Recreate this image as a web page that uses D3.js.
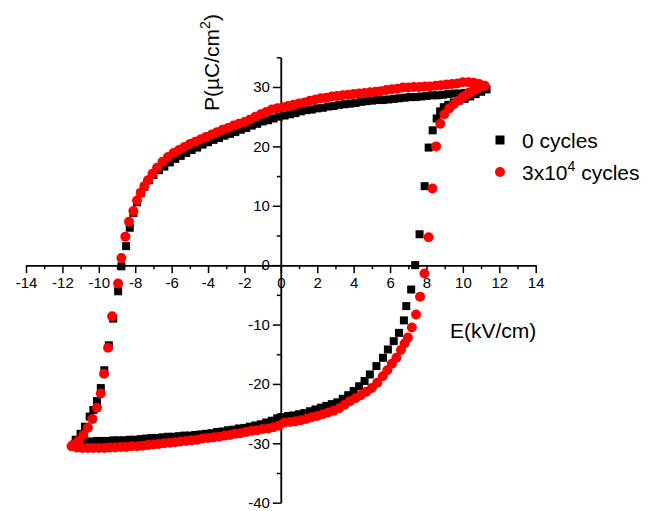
<!DOCTYPE html>
<html>
<head>
<meta charset="utf-8">
<script src="https://cdn.jsdelivr.net/npm/d3@7"></script>
<style>
  body { margin: 0; background: #fff; }
  svg { display: block; font-family: "Liberation Sans", Arial, sans-serif; }
  .tick text { font-size: 15px; fill: #000; }
</style>
</head>
<body>
<div id="loop-chart"></div>
<script>
// P-E hysteresis loops, [E (kV/cm), P (uC/cm2)]
const cycles0 = [
  [11.3,29.6],[11.0,29.4],[10.7,29.2],[10.4,29.1],[10.1,29.0],[9.8,28.9],[9.5,28.9],[9.2,28.8],[8.9,28.7],[8.6,28.6],
  [8.3,28.6],[8.0,28.5],[7.7,28.4],[7.4,28.3],[7.1,28.3],[6.8,28.2],[6.5,28.1],[6.2,28.0],[5.9,27.9],[5.6,27.8],
  [5.3,27.8],[5.0,27.7],[4.7,27.6],[4.4,27.5],[4.1,27.3],[3.8,27.2],[3.5,27.1],[3.2,27.0],[2.9,26.8],[2.6,26.7],
  [2.3,26.5],[2.0,26.4],[1.7,26.2],[1.4,26.1],[1.1,25.9],[0.8,25.6],[0.5,25.4],[0.2,25.2],[-0.1,25.0],[-0.4,24.7],
  [-0.7,24.4],[-1.0,24.2],[-1.3,23.8],[-1.6,23.5],[-1.9,23.1],[-2.2,22.8],[-2.5,22.4],[-2.8,22.1],[-3.1,21.8],[-3.4,21.4],
  [-3.7,21.1],[-4.0,20.7],[-4.3,20.3],[-4.6,19.8],[-4.9,19.4],[-5.2,18.9],[-5.5,18.4],[-5.8,17.9],[-6.1,17.3],[-6.4,16.6],
  [-6.7,16.0],[-7.0,15.2],[-7.25,14.3],[-7.5,13.2],[-7.7,12.1],[-7.9,10.6],[-8.1,8.8],[-8.3,6.3],[-8.5,3.2],[-8.76,-0.2],
  [-8.94,-4.4],[-9.21,-9.0],[-9.45,-13.5],[-9.7,-17.7],[-9.89,-20.7],[-10.1,-22.9],[-10.3,-24.4],[-10.5,-25.5],[-10.76,-27.2],[-11.0,-28.4],
  [-11.27,-29.4],[-11.0,-29.6],[-10.7,-29.7],[-10.4,-29.7],[-10.1,-29.6],[-9.8,-29.6],[-9.5,-29.6],[-9.2,-29.5],[-8.9,-29.5],[-8.6,-29.5],
  [-8.3,-29.4],[-8.0,-29.4],[-7.7,-29.3],[-7.4,-29.2],[-7.1,-29.1],[-6.8,-29.1],[-6.5,-29.0],[-6.2,-28.9],[-5.9,-28.9],[-5.6,-28.8],
  [-5.3,-28.7],[-5.0,-28.7],[-4.7,-28.6],[-4.4,-28.5],[-4.1,-28.4],[-3.8,-28.3],[-3.5,-28.1],[-3.2,-28.0],[-2.9,-27.8],[-2.6,-27.7],
  [-2.3,-27.5],[-2.0,-27.4],[-1.7,-27.2],[-1.4,-27.0],[-1.1,-26.8],[-0.8,-26.5],[-0.5,-26.2],[-0.2,-25.8],[0.1,-25.6],[0.4,-25.4],
  [0.7,-25.3],[1.0,-25.1],[1.3,-24.9],[1.6,-24.6],[1.9,-24.3],[2.2,-24.0],[2.5,-23.7],[2.8,-23.4],[3.1,-23.1],[3.4,-22.5],
  [3.7,-21.9],[4.0,-21.2],[4.3,-20.4],[4.6,-19.5],[4.89,-18.4],[5.25,-17.0],[5.61,-15.6],[5.88,-14.2],[6.2,-12.8],[6.49,-11.4],
  [6.76,-9.3],[6.89,-6.9],[7.16,-4.1],[7.38,0.0],[7.62,5.2],[7.9,13.3],[8.12,19.8],[8.34,22.7],[8.56,24.7],[8.75,25.9],
  [8.95,26.6],[9.2,27.0],[9.5,27.4],[9.8,27.7],[10.1,28.0],[10.4,28.4],[10.7,28.8],[11.0,29.2]
];

const cycles3e4 = [
  [11.2,30.2],[10.9,30.5],[10.6,30.7],[10.3,30.8],[10.0,30.8],[9.7,30.6],[9.4,30.5],[9.1,30.4],[8.8,30.3],[8.5,30.2],
  [8.2,30.1],[7.9,30.1],[7.6,30.0],[7.3,30.0],[7.0,29.9],[6.7,29.9],[6.4,29.7],[6.1,29.6],[5.8,29.5],[5.5,29.3],
  [5.2,29.2],[4.9,29.1],[4.6,29.0],[4.3,28.9],[4.0,28.8],[3.7,28.7],[3.4,28.6],[3.1,28.5],[2.8,28.4],[2.5,28.2],
  [2.2,28.1],[1.9,27.9],[1.6,27.7],[1.3,27.4],[1.0,27.2],[0.7,27.0],[0.4,26.8],[0.1,26.6],[-0.2,26.4],[-0.5,26.2],
  [-0.8,25.8],[-1.1,25.4],[-1.4,25.0],[-1.7,24.5],[-2.0,24.1],[-2.3,23.8],[-2.6,23.5],[-2.9,23.1],[-3.2,22.8],[-3.5,22.4],
  [-3.8,22.0],[-4.1,21.6],[-4.4,21.2],[-4.7,20.8],[-5.0,20.4],[-5.3,19.9],[-5.6,19.4],[-5.9,18.9],[-6.2,18.2],[-6.5,17.4],
  [-6.8,16.4],[-7.05,15.4],[-7.3,14.3],[-7.5,13.3],[-7.7,12.2],[-7.9,10.9],[-8.1,9.1],[-8.34,7.3],[-8.54,4.8],[-8.76,1.2],
  [-8.94,-3.1],[-9.27,-8.6],[-9.49,-13.9],[-9.71,-18.3],[-9.89,-21.6],[-10.1,-24.0],[-10.35,-25.9],[-10.6,-27.4],[-10.85,-28.6],[-11.1,-29.6],
  [-11.4,-30.2],[-11.5,-30.5],[-11.2,-30.7],[-10.9,-30.8],[-10.6,-30.8],[-10.3,-30.8],[-10.0,-30.8],[-9.7,-30.8],[-9.4,-30.7],[-9.1,-30.7],
  [-8.8,-30.6],[-8.5,-30.6],[-8.2,-30.5],[-7.9,-30.5],[-7.6,-30.4],[-7.3,-30.3],[-7.0,-30.2],[-6.7,-30.1],[-6.4,-30.0],[-6.1,-29.9],
  [-5.8,-29.8],[-5.5,-29.7],[-5.2,-29.6],[-4.9,-29.5],[-4.6,-29.4],[-4.3,-29.2],[-4.0,-29.1],[-3.7,-29.0],[-3.4,-28.9],[-3.1,-28.7],
  [-2.8,-28.6],[-2.5,-28.4],[-2.2,-28.3],[-1.9,-28.1],[-1.6,-27.9],[-1.3,-27.8],[-1.0,-27.6],[-0.7,-27.5],[-0.4,-27.3],[-0.1,-27.0],
  [0.2,-26.5],[0.5,-26.4],[0.8,-26.3],[1.1,-26.1],[1.4,-25.9],[1.7,-25.6],[2.0,-25.4],[2.3,-25.1],[2.6,-24.8],[2.9,-24.5],
  [3.2,-24.1],[3.5,-23.5],[3.8,-22.9],[4.1,-22.4],[4.4,-21.9],[4.7,-21.3],[5.0,-20.7],[5.3,-19.8],[5.6,-18.7],[5.85,-17.7],
  [6.1,-16.6],[6.35,-15.6],[6.6,-14.3],[6.8,-13.2],[6.98,-12.2],[7.2,-10.5],[7.43,-8.3],[7.65,-5.3],[7.89,-1.4],[8.12,4.7],
  [8.33,12.9],[8.53,20.0],[8.76,23.8],[8.98,25.4],[9.25,26.4],[9.5,27.1],[9.75,27.7],[10.0,28.3],[10.25,28.8],[10.5,29.2],
  [10.75,29.6],[11.0,30.0]
];

const xMajorTicks = [-14, -12, -10, -8, -6, -4, -2, 0, 2, 4, 6, 8, 10, 12, 14];
const xMinorTicks = [-13, -11, -9, -7, -5, -3, -1, 1, 3, 5, 7, 9, 11, 13];
const yMajorTicks = [-40, -30, -20, -10, 0, 10, 20, 30];
const yMinorTicks = [-35, -25, -15, -5, 5, 15, 25, 35];

const width = 664;
const height = 511;

const svg = d3.select("#loop-chart")
  .append("svg")
  .attr("width", width)
  .attr("height", height);

const xScale = d3.scaleLinear().domain([-14, 14]).range([26, 535.7]);
const yScale = d3.scaleLinear().domain([-40, 35]).range([502.7, 57.3]);

const fmt = d => String(d); // keep plain hyphen minus like the original

// x axis through P = 0
const xAxisG = svg.append("g")
  .attr("transform", `translate(0, ${yScale(0)})`);
xAxisG.append("g")
  .call(d3.axisBottom(xScale).tickValues(xMinorTicks).tickSize(4).tickSizeOuter(0).tickFormat(""));
xAxisG.append("g")
  .call(d3.axisBottom(xScale).tickValues(xMajorTicks).tickSize(8).tickSizeOuter(0).tickFormat(fmt).tickPadding(4));

// y axis through E = 0
const yAxisG = svg.append("g")
  .attr("transform", `translate(${xScale(0)}, 0)`);
yAxisG.append("g")
  .call(d3.axisLeft(yScale).tickValues(yMinorTicks).tickSize(4).tickSizeOuter(0).tickFormat(""));
yAxisG.append("g")
  .call(d3.axisLeft(yScale).tickValues(yMajorTicks).tickSize(8).tickSizeOuter(0).tickFormat(fmt).tickPadding(3));

svg.selectAll(".domain, .tick line")
  .attr("stroke", "#000")
  .attr("stroke-width", 1.5);

// markers: black squares first, red circles on top
const sq = 8;
svg.append("g")
  .selectAll("rect")
  .data(cycles0)
  .join("rect")
  .attr("x", d => xScale(d[0]) - sq / 2)
  .attr("y", d => yScale(d[1]) - sq / 2)
  .attr("width", sq)
  .attr("height", sq)
  .attr("fill", "#000");

svg.append("g")
  .selectAll("circle")
  .data(cycles3e4)
  .join("circle")
  .attr("cx", d => xScale(d[0]))
  .attr("cy", d => yScale(d[1]))
  .attr("r", 5)
  .attr("fill", "#ff0000");

// axis titles
const yTitle = svg.append("text")
  .attr("transform", "translate(219, 111) rotate(-90)")
  .attr("font-size", 21)
  .attr("fill", "#000");
yTitle.append("tspan").text("P(\u00b5C/cm");
yTitle.append("tspan").attr("font-size", 14).attr("dy", -9).text("2");
yTitle.append("tspan").attr("dy", 9).text(")");

svg.append("text")
  .attr("x", 450)
  .attr("y", 338)
  .attr("font-size", 21)
  .attr("fill", "#000")
  .text("E(kV/cm)");

// legend
const legend = svg.append("g");
legend.append("rect")
  .attr("x", 500 - 4.5).attr("y", 140 - 4.5)
  .attr("width", 9).attr("height", 9)
  .attr("fill", "#000");
legend.append("text")
  .attr("x", 522).attr("y", 148)
  .attr("font-size", 21)
  .text("0 cycles");

legend.append("circle")
  .attr("cx", 500).attr("cy", 172)
  .attr("r", 5)
  .attr("fill", "#ff0000");
const leg2 = legend.append("text")
  .attr("x", 522).attr("y", 180)
  .attr("font-size", 21);
leg2.append("tspan").text("3x10");
leg2.append("tspan").attr("font-size", 14).attr("dy", -9).text("4");
leg2.append("tspan").attr("dy", 9).text(" cycles");
</script>
</body>
</html>
